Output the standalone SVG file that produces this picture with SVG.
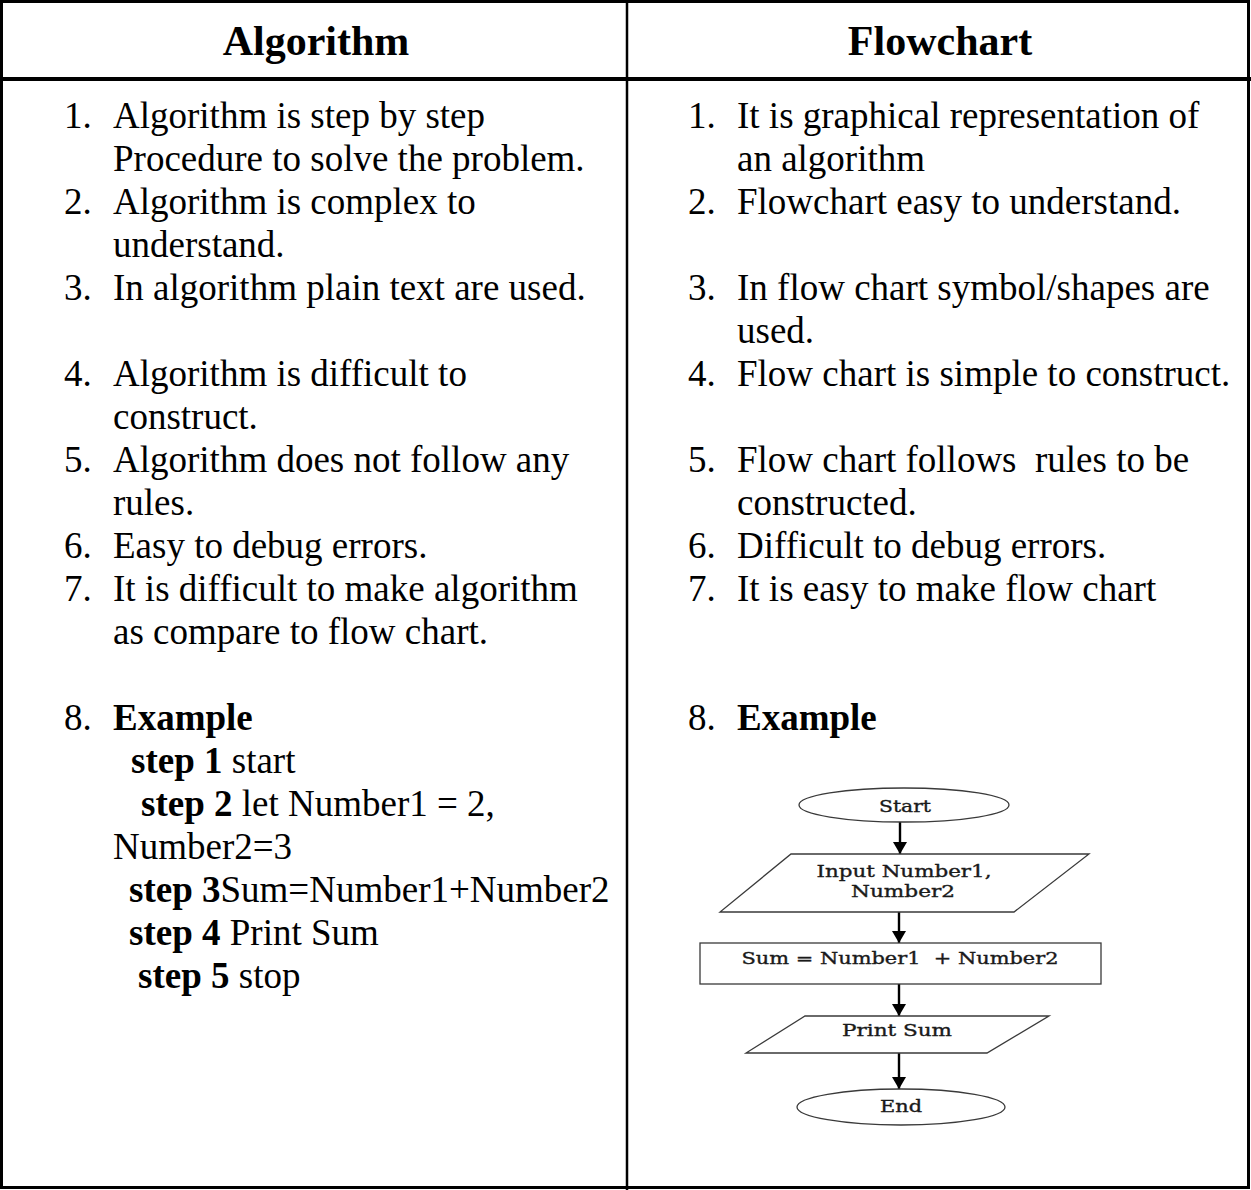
<svg xmlns="http://www.w3.org/2000/svg" width="1251" height="1190" viewBox="0 0 1251 1190">
<style>
.t{font-family:"Liberation Serif","Times New Roman",serif;font-size:37px;fill:#000}
.h{font-family:"Liberation Serif","Times New Roman",serif;font-size:42px;font-weight:bold;fill:#000;text-anchor:middle}
.b{font-weight:bold}
.f{font-family:"DejaVu Serif","Liberation Serif",serif;font-size:16px;fill:#1a1a1a;stroke:#1a1a1a;stroke-width:0.35;text-anchor:middle}
.shape{fill:#fff;stroke:#3a3a3a;stroke-width:1.3}
.conn{stroke:#000;stroke-width:2.4;fill:none}
.grid{stroke:#000;fill:none}
</style>
<defs>
<marker id="ah" markerUnits="userSpaceOnUse" markerWidth="14" markerHeight="16" refX="12" refY="8" orient="auto">
<path d="M0,1 L12,8 L0,15 z" fill="#000"/>
</marker>
</defs>
<rect width="1251" height="1190" fill="#fff"/>
<g id="table">
<rect class="grid" x="1.5" y="1.5" width="1247" height="1186" stroke-width="3"/>
<line class="grid" x1="0" y1="79" x2="1251" y2="79" stroke-width="4"/>
<line class="grid" x1="627" y1="0" x2="627" y2="1190" stroke-width="2.5"/>
</g>
<g id="headers">
<text class="h" x="316" y="55">Algorithm</text>
<text class="h" x="940" y="55">Flowchart</text>
</g>
<g id="algorithm-column" class="t">
<text x="64" y="128">1.</text><text x="113" y="128">Algorithm is step by step</text>
<text x="113" y="171">Procedure to solve the problem.</text>
<text x="64" y="214">2.</text><text x="113" y="214">Algorithm is complex to</text>
<text x="113" y="257">understand.</text>
<text x="64" y="300">3.</text><text x="113" y="300">In algorithm plain text are used.</text>
<text x="64" y="386">4.</text><text x="113" y="386">Algorithm is difficult to</text>
<text x="113" y="429">construct.</text>
<text x="64" y="472">5.</text><text x="113" y="472">Algorithm does not follow any</text>
<text x="113" y="515">rules.</text>
<text x="64" y="558">6.</text><text x="113" y="558">Easy to debug errors.</text>
<text x="64" y="601">7.</text><text x="113" y="601">It is difficult to make algorithm</text>
<text x="113" y="644">as compare to flow chart.</text>
<text x="64" y="730">8.</text><text x="113" y="730" class="b">Example</text>
<text x="131" y="773"><tspan class="b">step 1</tspan> start</text>
<text x="141" y="816"><tspan class="b">step 2</tspan> let Number1 = 2,</text>
<text x="113" y="859">Number2=3</text>
<text x="129" y="902"><tspan class="b">step 3</tspan>Sum=Number1+Number2</text>
<text x="129" y="945"><tspan class="b">step 4</tspan> Print Sum</text>
<text x="138" y="988"><tspan class="b">step 5</tspan> stop</text>
</g>
<g id="flowchart-column" class="t">
<text x="688" y="128">1.</text><text x="737" y="128">It is graphical representation of</text>
<text x="737" y="171">an algorithm</text>
<text x="688" y="214">2.</text><text x="737" y="214">Flowchart easy to understand.</text>
<text x="688" y="300">3.</text><text x="737" y="300">In flow chart symbol/shapes are</text>
<text x="737" y="343">used.</text>
<text x="688" y="386">4.</text><text x="737" y="386">Flow chart is simple to construct.</text>
<text x="688" y="472">5.</text><text x="737" y="472" xml:space="preserve">Flow chart follows  rules to be</text>
<text x="737" y="515">constructed.</text>
<text x="688" y="558">6.</text><text x="737" y="558">Difficult to debug errors.</text>
<text x="688" y="601">7.</text><text x="737" y="601">It is easy to make flow chart</text>
<text x="688" y="730">8.</text><text x="737" y="730" class="b">Example</text>
</g>
<g id="connectors">
<line class="conn" x1="900" y1="822" x2="900" y2="854" marker-end="url(#ah)"/>
<line class="conn" x1="899" y1="912" x2="899" y2="943" marker-end="url(#ah)"/>
<line class="conn" x1="899" y1="984" x2="899" y2="1016" marker-end="url(#ah)"/>
<line class="conn" x1="899" y1="1053" x2="899" y2="1089" marker-end="url(#ah)"/>
</g>
<g id="node-start">
<ellipse class="shape" cx="904" cy="805" rx="105" ry="17"/>
<text class="f" x="905" y="812" textLength="52" lengthAdjust="spacingAndGlyphs">Start</text>
</g>
<g id="node-input">
<polygon class="shape" points="791,854 1089,854 1014,912 720,912"/>
<text class="f" x="904" y="877" textLength="175" lengthAdjust="spacingAndGlyphs">Input Number1,</text>
<text class="f" x="903" y="897" textLength="104" lengthAdjust="spacingAndGlyphs">Number2</text>
</g>
<g id="node-sum">
<rect class="shape" x="700" y="943" width="401" height="41"/>
<text class="f" x="900" y="964" textLength="317" lengthAdjust="spacingAndGlyphs" xml:space="preserve">Sum = Number1  + Number2</text>
</g>
<g id="node-print">
<polygon class="shape" points="805,1016 1049,1016 987,1053 746,1053"/>
<text class="f" x="897" y="1036" textLength="110" lengthAdjust="spacingAndGlyphs">Print Sum</text>
</g>
<g id="node-end">
<ellipse class="shape" cx="901" cy="1107" rx="104" ry="18"/>
<text class="f" x="901" y="1112" textLength="42" lengthAdjust="spacingAndGlyphs">End</text>
</g>
</svg>
